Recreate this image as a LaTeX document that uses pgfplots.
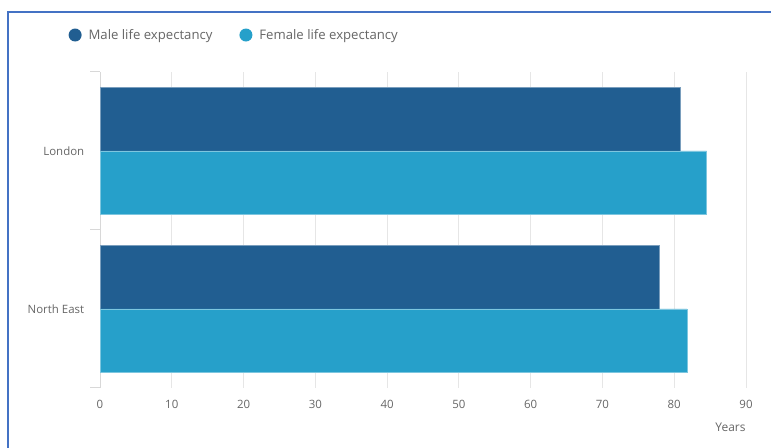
\documentclass[border=0pt]{standalone}
\usepackage{fontspec}
\setmainfont{Open Sans}
\usepackage{pgfplots}
\pgfplotsset{compat=1.18}
\definecolor{male}{HTML}{215E91}
\definecolor{female}{HTML}{26A0CA}
\definecolor{txt}{HTML}{666666}
\definecolor{gridc}{HTML}{E6E6E6}
\definecolor{axc}{HTML}{D8D8D8}
\definecolor{framec}{HTML}{4472C4}
\begin{document}
\begin{tikzpicture}[x=1bp,y=1bp]
\path[use as bounding box] (0,0) rectangle (771,448);
\draw[framec, line width=2bp] (8,0) -- (8,436) -- (771,436);
\begin{axis}[
  at={(100bp,60bp)}, anchor=south west, scale only axis,
  width=646bp, height=316bp,
  xbar, xmin=0, xmax=90, ymin=-0.5, ymax=1.5,
  bar width=0.4,
  /pgf/number format/assume math mode=true,
  axis y line*=left, axis x line*=bottom,
  x axis line style={draw=none},
  y axis line style={draw=axc, line width=1bp},
  xtick={0,10,...,90},
  xmajorgrids, major grid style={draw=gridc, line width=1bp},
  xtick style={draw=none},
  ytick={0,1}, yticklabels={North East, London},
  ytick style={draw=none},
  extra y ticks={-0.5,0.5,1.5}, extra y tick labels={},
  extra y tick style={ytick style={draw=axc, line width=1bp}, tick align=outside, major tick length=10bp, ymajorgrids=false},
  tick label style={font=\fontsize{11.5}{13}\selectfont, text=txt},
  xticklabel style={yshift=-9bp},
  yticklabel style={xshift=-8bp},
  xlabel=Years,
  xlabel style={at={(axis description cs:1,0)}, anchor=north east, yshift=-31bp, xshift=3bp, font=\fontsize{12}{14}\selectfont, text=txt},
  legend style={draw=none, legend columns=2, at={(axis description cs:-0.0535,1.117)}, anchor=west,
    font=\fontsize{13.2}{15}\selectfont, text=txt, /tikz/every even column/.append style={column sep=25bp}},
  legend image code/.code={\fill[#1, draw=none] (6.5bp,0) circle (6.5bp); \path[draw=none, fill=none] (0,0) -- (18bp,0);},
]
\addplot[fill=male, draw=male!60!white, line width=0.8bp, bar shift=0.2] coordinates {(78.0,0) (80.9,1)};
\addlegendentry{Male life expectancy}
\addplot[fill=female, draw=female!60!white, line width=0.8bp, bar shift=-0.2] coordinates {(81.8,0) (84.5,1)};
\addlegendentry{Female life expectancy}
\end{axis}
\end{tikzpicture}
\end{document}
